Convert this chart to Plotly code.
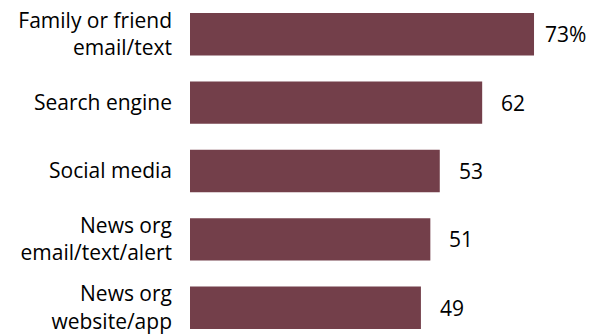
import plotly.graph_objects as go

categories = [
    "Family or friend<br>email/text",
    "Search engine",
    "Social media",
    "News org<br>email/text/alert",
    "News org<br>website/app",
]
values = [73, 62, 53, 51, 49]
value_labels = ["73%", "62", "53", "51", "49"]

BAR_COLOR = "#733F4A"
FONT = "Open Sans, Liberation Sans, Arial, sans-serif"

fig = go.Figure(
    go.Bar(
        x=values,
        y=categories,
        orientation="h",
        width=0.62,
        marker=dict(color=BAR_COLOR, line=dict(width=0)),
        hoverinfo="skip",
    )
)

# value labels to the right of each bar
for cat, val, lab in zip(categories, values, value_labels):
    fig.add_annotation(
        x=val,
        y=cat,
        text=lab,
        showarrow=False,
        xanchor="center",
        yanchor="middle",
        xshift=31,
        font=dict(family=FONT, size=21, color="#000000"),
    )

fig.update_layout(
    width=600,
    height=335,
    margin=dict(l=190, r=0, t=0, b=0),
    paper_bgcolor="white",
    plot_bgcolor="white",
    showlegend=False,
    font=dict(family=FONT, size=21, color="#000000"),
    bargap=0.38,
)
fig.update_xaxes(
    range=[0, 87],
    visible=False,
    showgrid=False,
    zeroline=False,
)
fig.update_yaxes(
    type="category",
    range=[4.355, -0.5],
    showgrid=False,
    zeroline=False,
    showline=False,
    ticks="",
    ticklabelstandoff=17,
    tickfont=dict(family=FONT, size=21, color="#000000"),
)

fig.write_html("out.html")
